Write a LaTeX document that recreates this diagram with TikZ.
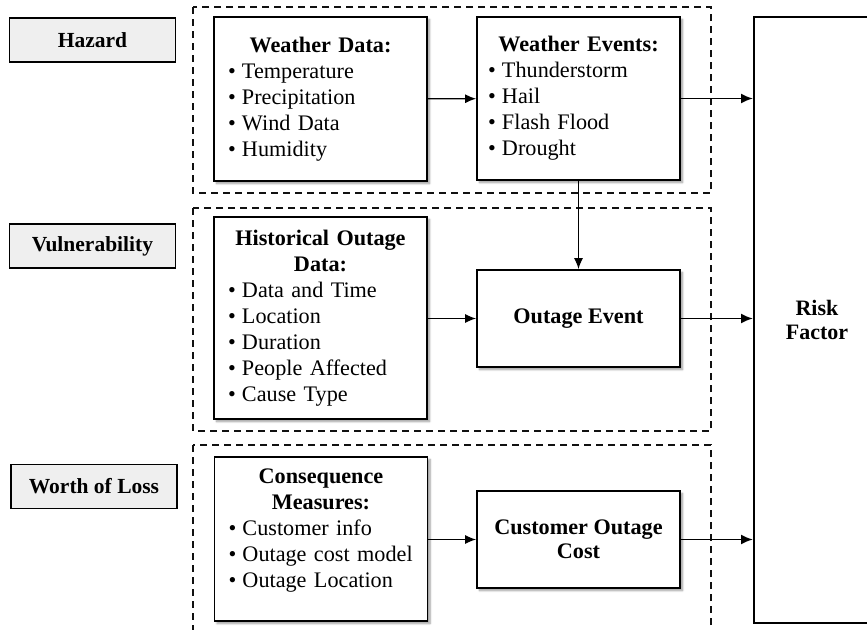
\documentclass[tikz,border=0pt]{standalone}
\usepackage{fontspec}
\setmainfont{Liberation Serif}
\usepackage{xcolor}
\usepackage{tikz}
\usetikzlibrary{arrows.meta,positioning,shadows,shadows.blur}
\definecolor{tagfill}{HTML}{EFEFEF}
\definecolor{linegrey}{HTML}{111111}
\newcommand{\bul}{\makebox[14pt][l]{\textbullet}}
\newcommand{\hd}[1]{\makebox[\hsize][c]{\textbf{#1}}}

\begin{document}
\begin{tikzpicture}[x=1pt, y=1pt, line join=miter, font=\fontsize{22.2}{26}\selectfont,
  tag/.style={draw=black, fill=tagfill, line width=1.8, minimum width=166, minimum height=44, font=\fontsize{21.5}{26}\selectfont\bfseries},
  grp/.style={draw=linegrey, line width=1.6, dash pattern=on 7pt off 5pt},
  blk/.style={draw=black, fill=white, line width=1.8, inner ysep=0pt, minimum height=#1,
    blur shadow={shadow xshift=2.5pt, shadow yshift=-2.5pt, shadow blur steps=6, shadow blur radius=2pt}},
  lbox/.style={blk=#1, text width=185, inner xsep=14pt, align=left},
  rbox/.style={blk=#1, text width=181, inner xsep=11pt, align=left},
  cbox/.style={blk=#1, minimum width=203, align=center, font=\fontsize{22.2}{24.5}\selectfont\bfseries},
  link/.style={line width=1.3, -{Latex[length=11pt, width=9pt]}},
  feed/.style={line width=1.9, -{Latex[length=12pt, width=10pt]}}]
  \useasboundingbox (0,0) rectangle (867,-629);
  % layer tags
  \node[tag] (haz) at (92.5,-40) {Hazard};
  \node[tag] (vul) at (92.5,-246) {Vulnerability};
  \node[tag] (wol) at (94,-486.5) {Worth of Loss};
  % dashed groups
  \draw[grp] (193,-7) rectangle (711,-193);
  \draw[grp] (193,-208) rectangle (711,-431);
  \draw[grp] (193,-445) rectangle (711,-660);
  % risk column
  \node[draw=black, line width=2, minimum width=126, minimum height=606, align=center,
    font=\fontsize{22}{24}\selectfont\bfseries] (risk) at (817,-320) {Risk\\Factor};
  % hazard row
  \node[lbox=164] (wdat) at (320.5,-99) {\hd{Weather Data:}\\
    \bul Temperature\\ \bul Precipitation\\ \bul Wind Data\\ \bul Humidity};
  \node[rbox=163] (wevt) at (578.5,-98.5) {\hd{Weather Events:}\\
    \bul Thunderstorm\\ \bul Hail\\ \bul Flash Flood\\ \bul Drought};
  % vulnerability row
  \node[lbox=202] (hist) at (320.5,-318) {\hd{Historical Outage}\\ \hd{Data:}\\
    \bul Data and Time\\ \bul Location\\ \bul Duration\\ \bul People Affected\\ \bul Cause Type};
  \node[cbox=97] (oevt) at (578.5,-318.5) {Outage Event};
  % worth of loss row
  \node[lbox=164] (cons) at (321,-539) {\hd{Consequence}\\ \hd{Measures:}\\
    \bul Customer info\\ \bul Outage cost model\\ \bul Outage Location\\[-5pt]\mbox{}};
  \node[cbox=97] (coc) at (578.5,-539.5) {Customer Outage\\Cost};
  % links
  \draw[link] (wdat) -- (wevt);
  \draw[link] (wevt.south) -- (oevt.north);
  \draw[link] (hist.east |- oevt) -- (oevt.west);
  \draw[link] (cons.east |- coc) -- (coc.west);
  \draw[feed] (wevt.east) -- (wevt.east -| risk.west);
  \draw[feed] (oevt.east) -- (oevt.east -| risk.west);
  \draw[feed] (coc.east) -- (coc.east -| risk.west);
\end{tikzpicture}
\end{document}
